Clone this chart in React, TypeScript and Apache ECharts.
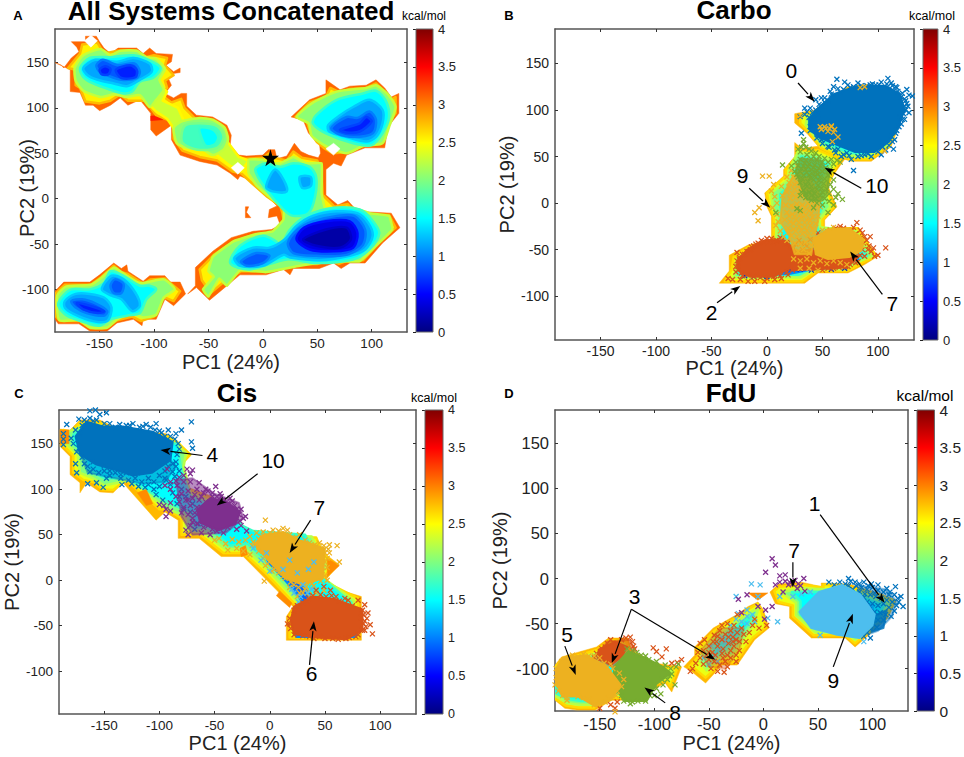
import React, { useEffect, useRef } from "react";
import * as echarts from "echarts";

type P = [number, number];
const FONT = '"Liberation Sans", Arial, sans-serif';
const xTicks = [-150, -100, -50, 0, 50, 100];
const yTicks = [-100, -50, 0, 50, 100, 150];
const cTicks = [0, 0.5, 1, 1.5, 2, 2.5, 3, 3.5, 4];
const X_RANGE: P = [-191, 132.5];
const Y_RANGE: P = [-147, 187];
const BLUE = "#0072BD", RED = "#D95319", GOLD = "#EDB120", PURPLE = "#7E2F8E", GREEN = "#77AC30", SKY = "#4DBEEE";

// ---------- Panel A: energy contours ----------
const A_main_310: P[] = [[-191,150],[-185,147],[-183,144],[-176,155],[-169,162],[-171,167],[-176,173],[-163,173],[-163,179],[-153,179],[-150,173],[-146,166],[-140,160],[-133,166],[-116,166],[-110,160],[-104,166],[-98,160],[-83,159],[-84,151],[-89,147],[-82,140],[-76,144],[-76,139],[-82,138],[-87,133],[-84,125],[-90,116],[-82,111],[-75,116],[-70,116],[-70,102],[-61,92],[-46,90],[-33,81],[-29,70],[-30,59],[-22,48],[-15,47],[0,48],[5,54],[11,54],[13,44],[22,47],[29,61],[35,52],[42,48],[51,45],[53,50],[52,61],[42,72],[37,87],[26,90],[43,109],[58,116],[58,131],[71,120],[80,124],[95,125],[104,131],[112,122],[118,112],[125,116],[125,94],[115,79],[112,56],[94,56],[77,48],[72,36],[65,39],[58,32],[58,4],[69,-7],[78,-2],[87,-14],[118,-16],[126,-32],[110,-49],[94,-71],[80,-71],[72,-77],[65,-71],[52,-77],[28,-77],[25,-84],[19,-78],[3,-84],[-21,-84],[-39,-102],[-49,-112],[-61,-98],[-69,-105],[-62,-96],[-62,-76],[-46,-58],[-29,-43],[-9,-36],[8,-34],[16,-29],[13,-19],[5,-21],[6,-12],[13,-8],[3,4],[-9,19],[-21,25],[-23,21],[-30,28],[-42,37],[-58,41],[-76,48],[-84,65],[-84,81],[-98,69],[-103,76],[-103,94],[-113,109],[-124,103],[-131,111],[-140,103],[-150,97],[-156,103],[-163,103],[-168,117],[-177,118],[-177,142]];
const A_bl_310: P[] = [[-191,-102],[-183,-92],[-159,-92],[-150,-84],[-137,-71],[-130,-77],[-125,-73],[-124,-80],[-110,-91],[-104,-85],[-90,-85],[-85,-92],[-76,-92],[-71,-105],[-82,-118],[-90,-111],[-98,-133],[-110,-133],[-111,-140],[-119,-133],[-134,-137],[-143,-146],[-159,-146],[-169,-138],[-188,-138],[-191,-133]];
const A_main_255: P[] = [[-179,144],[-168,160],[-166,170],[-152,172],[-146,160],[-133,163],[-116,163],[-110,155],[-100,158],[-88,155],[-90,147],[-82,136],[-90,130],[-88,122],[-94,115],[-84,106],[-75,110],[-72,100],[-62,88],[-48,87],[-36,78],[-32,68],[-33,57],[-20,44],[-15,44],[0,45],[6,50],[10,45],[22,42],[28,52],[36,45],[50,42],[54,30],[55,4],[66,-9],[78,-6],[86,-17],[116,-18],[122,-32],[108,-47],[92,-68],[78,-68],[70,-72],[62,-68],[50,-72],[28,-72],[20,-74],[3,-80],[-20,-80],[-36,-92],[-48,-104],[-56,-90],[-58,-78],[-45,-62],[-28,-48],[-9,-40],[8,-38],[20,-30],[18,-16],[16,-8],[4,2],[-10,17],[-20,28],[-28,30],[-42,42],[-58,46],[-74,53],[-82,66],[-82,84],[-98,92],[-108,108],[-124,108],[-131,115],[-140,108],[-150,105],[-163,107],[-168,122],[-172,125],[-172,142]];
const A_ur_255: P[] = [[30,90],[43,106],[58,112],[62,122],[71,117],[80,121],[95,122],[104,127],[110,120],[116,108],[122,112],[122,94],[112,78],[108,60],[94,59],[77,51],[64,50],[56,56],[50,62],[44,72],[40,86]];
const A_bl_255: P[] = [[-190,-104],[-182,-95],[-158,-95],[-149,-87],[-137,-74],[-130,-81],[-124,-83],[-110,-94],[-103,-89],[-90,-88],[-82,-96],[-76,-102],[-82,-113],[-92,-108],[-100,-130],[-112,-135],[-120,-130],[-134,-134],[-144,-143],[-158,-143],[-168,-135],[-186,-135],[-190,-130]];
const A_link_230a: P[] = [[-104,103],[-95,125],[-88,118],[-92,108],[-78,100],[-72,84],[-80,74],[-88,88],[-98,96]];
const A_link_230b: P[] = [[-36,76],[-32,62],[-22,46],[-13,42],[-20,30],[-30,36],[-42,48],[-40,62]];
const A_tl_205: P[] = [[-173,144],[-165,158],[-149,165],[-140,158],[-131,163],[-116,163],[-107,156],[-98,154],[-90,143],[-95,131],[-91,120],[-98,109],[-104,101],[-113,114],[-125,112],[-137,115],[-149,112],[-165,119],[-172,130]];
const A_ch_205: P[] = [[-82,78],[-75,85],[-58,89],[-46,87],[-35,78],[-32,65],[-36,54],[-46,48],[-55,54],[-70,56],[-79,61]];
const A_ctr_205: P[] = [[-13,43],[0,43],[7,39],[16,39],[28,46],[40,39],[54,39],[54,6],[57,-10],[65,-12],[83,-10],[98,-16],[116,-19],[119,-34],[104,-52],[89,-69],[65,-69],[34,-74],[3,-81],[-21,-79],[-33,-96],[-40,-88],[-50,-108],[-55,-100],[-45,-86],[-50,-80],[-46,-64],[-27,-47],[-6,-39],[9,-36],[19,-23],[19,-10],[9,-1],[-6,15],[-13,28]];
const A_ur_205: P[] = [[31,90],[45,105],[68,118],[95,122],[104,125],[115,115],[122,101],[116,79],[110,61],[92,58],[77,50],[58,58],[45,69],[42,83]];
const A_bl_205: P[] = [[-189,-107],[-181,-97],[-158,-95],[-149,-88],[-137,-76],[-130,-81],[-113,-93],[-91,-89],[-81,-100],[-91,-109],[-98,-128],[-110,-131],[-121,-127],[-134,-133],[-143,-142],[-159,-142],[-169,-134],[-187,-134]];
const A_ch_170: P[] = [[-72,80],[-58,83],[-42,80],[-36,68],[-42,56],[-60,54],[-74,62]];
const A_ch_150: P[] = [[-58,78],[-46,76],[-41,68],[-44,60],[-52,58],[-56,66]];
const A_tl_150: P[] = [[-168,144],[-159,155],[-140,156],[-119,158],[-105,153],[-94,144],[-101,133],[-113,129],[-120,118],[-128,116],[-140,120],[-156,127],[-165,134]];
const A_ctr_150: P[] = [[-7,32],[3,39],[16,35],[28,39],[43,35],[49,24],[48,2],[42,-16],[28,-19],[19,-12],[3,10]];
const A_bot_150: P[] = [[16,-52],[25,-34],[40,-19],[65,-10],[89,-12],[100,-23],[107,-38],[98,-56],[83,-67],[49,-71],[22,-67],[-12,-78],[-30,-71],[-21,-52],[0,-41],[12,-47]];
const A_ur_150: P[] = [[49,92],[68,109],[92,116],[104,119],[113,108],[116,90],[110,72],[100,59],[83,61],[58,72],[46,83]];
const A_bl_150: P[] = [[-185,-109],[-176,-100],[-159,-100],[-146,-93],[-140,-80],[-128,-85],[-113,-96],[-104,-96],[-98,-100],[-107,-111],[-113,-126],[-125,-129],[-140,-133],[-150,-140],[-162,-137],[-180,-129],[-188,-118]];
const A_tl_115: P[] = [[-165,144],[-154,153],[-134,151],[-119,155],[-104,149],[-102,140],[-113,131],[-125,124],[-137,127],[-152,131],[-161,136]];
const A_ctr_115a: P[] = [[3,13],[11,32],[19,21],[22,8],[9,8]];
const A_ctr_115b: P[] = [[34,24],[44,24],[44,14],[36,12]];
const A_bot_115: P[] = [[20,-45],[31,-30],[46,-19],[68,-14],[87,-16],[97,-27],[101,-41],[94,-56],[80,-63],[52,-68],[25,-65],[19,-62],[0,-74],[-21,-74],[-26,-65],[-9,-54],[6,-54]];
const A_ur_115: P[] = [[60,81],[71,92],[83,101],[98,109],[110,98],[110,83],[104,68],[95,63],[77,68],[61,74]];
const A_bl_115a: P[] = [[-182,-113],[-172,-105],[-159,-105],[-146,-109],[-139,-120],[-143,-135],[-156,-135],[-174,-127],[-182,-120]];
const A_bl_115b: P[] = [[-148,-100],[-139,-85],[-128,-89],[-117,-104],[-113,-118],[-120,-124],[-130,-111],[-139,-107]];
const A_tl_085: P[] = [[-153,147],[-147,153],[-133,147],[-118,149],[-113,140],[-116,133],[-130,131],[-143,136],[-150,140]];
const A_bot_085a: P[] = [[23,-49],[32,-34],[46,-25],[68,-19],[84,-19],[94,-34],[92,-51],[77,-62],[49,-63],[28,-60]];
const A_bot_085b: P[] = [[-20,-69],[-6,-60],[6,-63],[0,-71],[-15,-74]];
const A_ur_085: P[] = [[63,78],[77,90],[87,89],[98,96],[104,87],[101,72],[83,68],[68,72]];
const A_bl_085a: P[] = [[-176,-113],[-166,-111],[-153,-116],[-143,-124],[-146,-129],[-162,-126],[-172,-120]];
const A_bl_085b: P[] = [[-140,-96],[-136,-89],[-128,-94],[-130,-104],[-137,-104]];
const A_tl_060a: P[] = [[-150,142],[-145,146],[-140,143],[-142,137],[-148,137]];
const A_tl_060b: P[] = [[-135,142],[-122,147],[-116,142],[-117,134],[-130,133]];
const A_ur_060: P[] = [[71,76],[89,83],[95,90],[100,85],[89,74],[77,73]];
const A_bl_060: P[] = [[-171,-115],[-159,-118],[-146,-124],[-152,-126],[-165,-122]];
const A_bot_045: P[] = [[31,-45],[38,-32],[58,-25],[80,-25],[87,-38],[83,-54],[65,-58],[43,-56]];
const A_bot_020: P[] = [[37,-45],[58,-34],[77,-32],[81,-45],[71,-54],[49,-52]];
const A_holes: P[][] = [
  [[-164,174],[-158,180],[-152,174],[-158,167]],
  [[58,55],[65,61],[71,55],[65,48]],
  [[-29,34],[-23,40],[-17,34],[-23,27]],
];
const A_fragment: P[] = [[-16,-9],[-13,-9],[-15,-15],[-11,-21],[-16,-21]];
const A_hot: P[][] = [
  [[-103,91],[-92,92],[-92,87],[-103,86]],
  [[-93,104],[-85,105],[-85,103],[-93,102]],
];
const A_star: P[] = [[7, 45]];

// ---------- Panel B ----------
const B_top_295: P[] = [[25,96],[43,100],[73,125],[103,125],[122,111],[122,93],[112,61],[94,45],[76,45],[61,50],[49,57],[36,75],[25,86]];
const B_top_250: P[] = [[30,95],[43,98],[73,122],[103,122],[120,110],[120,93],[110,60],[92,47],[76,47],[61,52],[49,59],[38,76],[30,86]];
const B_top_200: P[] = [[36,92],[45,96],[73,118],[103,118],[118,108],[118,93],[108,62],[90,50],[76,50],[62,56],[50,62],[40,76],[35,84]];
const B_top_150: P[] = [[42,88],[50,96],[75,115],[100,115],[115,106],[115,93],[105,65],[88,54],[75,54],[62,60],[52,66],[45,78],[42,84]];
const B_low_295: P[] = [[25,65],[31,59],[46,61],[70,47],[61,32],[55,18],[63,-4],[52,-18],[52,-29],[82,-29],[100,-57],[88,-66],[73,-75],[46,-75],[34,-86],[-43,-86],[-34,-73],[-34,-56],[-17,-45],[4,-39],[4,-14],[0,-4],[-2,11],[15,29],[15,36],[25,50]];
const B_low_255: P[] = [[27,60],[31,55],[46,57],[66,47],[59,31],[53,18],[60,-4],[50,-18],[50,-27],[82,-27],[98,-57],[86,-64],[72,-73],[45,-73],[32,-84],[-38,-84],[-32,-72],[-30,-58],[-16,-47],[6,-41],[6,-14],[2,-3],[0,11],[17,29],[17,36],[27,50]];
const B_low_200: P[] = [[28,55],[45,52],[60,45],[55,30],[50,18],[57,-4],[47,-18],[48,-26],[80,-30],[95,-57],[84,-62],[70,-71],[44,-71],[30,-80],[-30,-80],[-28,-70],[-27,-60],[-15,-50],[8,-43],[9,-14],[5,-4],[4,11],[19,25],[20,36]];
const B_low_150: P[] = [[31,50],[44,47],[55,42],[50,28],[46,18],[50,-4],[44,-20],[46,-30],[78,-35],[90,-57],[82,-60],[68,-68],[44,-68],[28,-77],[-26,-77],[-24,-68],[-22,-60],[-12,-53],[12,-46],[15,-16],[12,-4],[12,10],[24,22],[26,36]];
const B_low_090: P[] = [[-20,-76],[20,-76],[40,-71],[60,-69],[82,-60],[70,-55],[-10,-55]];

const B_core0: P[] = [[38,90],[46,102],[60,117],[82,126],[107,126],[120,117],[124,100],[119,84],[110,66],[97,55],[79,55],[60,64],[45,72],[38,80]];
const B_core2a: P[] = [[-27,-64],[-18,-50],[-2,-40],[15,-40],[26,-52],[24,-68],[6,-79],[-15,-79],[-25,-73]];
const B_core2b: P[] = [[22,-52],[40,-50],[60,-57],[84,-56],[72,-69],[45,-71],[22,-72]];
const B_core7: P[] = [[42,-38],[55,-28],[74,-27],[87,-39],[85,-51],[74,-58],[55,-60],[44,-55]];
const B_mid7: P[] = [[14,8],[24,30],[40,24],[48,5],[46,-20],[42,-40],[40,-55],[25,-55],[20,-35],[12,-20]];
const B_mid10: P[] = [[30,48],[48,46],[56,30],[54,10],[48,2],[36,4],[30,20],[26,35]];
const B_pts0: P[] = [[63,133],[70,130],[78,125],[60,125],[49,113],[44,111],[34,102],[39,102],[30,93],[34,95],[31,75],[39,82],[39,78],[78,35],[93,127],[109,134],[103,130],[112,129],[116,125],[126,122],[128,116],[131,115],[126,107],[128,97],[122,90],[116,75],[114,58],[107,57],[82,50],[76,47],[88,52],[67,50],[61,57],[55,61],[49,68],[52,113],[57,120],[69,122],[85,126],[118,120],[124,104],[119,82],[115,68],[44,100],[38,92],[42,84],[47,76],[52,70],[58,64],[64,58],[72,54],[91,53],[100,55],[104,60],[112,72],[120,92],[124,112],[122,118],[113,126],[98,127],[90,126],[75,124],[66,119],[55,110],[47,106],[36,98],[125,100],[123,96],[41,97],[46,95],[43,90],[41,79],[45,70],[50,64],[56,60],[62,54],[69,52],[74,51],[85,51],[94,50],[103,52],[110,62],[113,66],[117,78],[121,85],[124,90],[127,104],[125,110],[121,114],[117,124],[108,128],[101,127],[95,128],[82,129],[73,127],[64,123],[58,117],[52,108],[49,104]];
const B_pts0y: P[] = [[48,82],[58,82],[61,79],[49,79],[55,77],[64,71],[59,66],[84,124],[88,125],[30,94],[52,82],[56,80],[60,76],[53,80],[106,56],[58,83]];
const B_pts2: P[] = [[-27,-53],[-35,-81],[-31,-82],[-24,-82],[-17,-84],[-11,-84],[-2,-84],[7,-82],[13,-81],[19,-77],[-14,-47],[-5,-40],[4,-38],[12,-37],[19,-43],[31,-43],[39,-39],[46,-32],[57,-29],[66,-25],[73,-29],[81,-21],[84,-29],[88,-36],[93,-36],[87,-43],[91,-50],[96,-48],[97,-57],[100,-56],[107,-48],[88,-57],[82,-63],[73,-68],[24,-48],[28,-53],[32,-50],[36,-46],[40,-50],[44,-47],[27,-62],[34,-58],[38,-62],[30,-68],[42,-66],[50,-66],[56,-68],[62,-66],[68,-64],[76,-62],[26,-44],[21,-47],[17,-44],[-10,-44],[8,-40],[0,-38],[6,-42],[-20,-55],[-25,-60],[-28,-68],[-28,-74],[-22,-78],[76,-30],[80,-33],[84,-38],[86,-50],[84,-56],[79,-56],[92,-46],[48,-38],[52,-34],[62,-32],[70,-32],[-25,-58],[-22,-55],[-18,-52],[-15,-50],[-12,-46],[-8,-43],[-3,-42],[3,-41],[9,-40],[14,-39],[18,-42],[22,-46],[25,-52],[27,-58],[-27,-62],[-26,-68],[-26,-72],[-23,-75],[-18,-77],[-12,-79],[-6,-80],[0,-81],[6,-79],[12,-78],[18,-74],[23,-72],[28,-66],[32,-66],[35,-65],[39,-68],[44,-70],[50,-72],[55,-70],[60,-70],[65,-69],[71,-68],[75,-66],[80,-64],[34,-44],[29,-40],[43,-41],[47,-35],[55,-31],[62,-27],[69,-27],[78,-26],[86,-32],[90,-40],[94,-52]];
const B_ptsDark: P[] = [[-20,-78],[-12,-79],[-4,-78],[4,-77],[10,-76],[20,-70],[7,-60],[-16,-76],[0,-79],[30,-71],[40,-72],[58,-71],[70,-70]];
const B_pts7: P[] = [[-4,29],[2,29],[6,20],[-11,-10],[-7,-5],[-8,-19],[4,13],[7,7],[9,0],[5,-5],[9,-12],[10,-20],[8,-24],[12,-30],[15,-36],[18,-40],[14,8],[18,12],[13,18],[20,22],[24,28],[18,28],[22,35],[27,40],[30,32],[34,36],[27,22],[32,24],[37,26],[25,15],[30,16],[35,15],[39,18],[44,22],[21,5],[26,6],[31,8],[36,6],[41,9],[46,12],[17,-2],[22,-3],[27,-1],[32,-2],[37,0],[42,2],[47,4],[18,-10],[23,-12],[28,-8],[33,-10],[38,-8],[43,-6],[48,-4],[16,-18],[21,-20],[26,-18],[31,-16],[36,-18],[41,-15],[46,-14],[19,-27],[24,-28],[29,-25],[34,-26],[39,-24],[44,-22],[22,-35],[27,-36],[32,-33],[37,-35],[42,-32],[25,-43],[30,-44],[35,-42],[40,-45],[28,-52],[33,-50],[38,-54],[24,-60],[30,-62],[36,-60],[42,-64],[48,-62],[54,-65],[60,-62],[66,-64],[72,-66],[30,-70],[38,-70],[46,-72],[86,-46],[80,-36],[60,-26],[50,-29],[20,-31],[26,-30],[31,-29],[36,-30],[41,-28],[24,-22],[29,-21],[34,-21],[39,-19],[20,-14],[25,-14],[30,-12],[35,-13],[40,-11],[24,-4],[29,-4],[34,-5],[39,-3],[44,-1],[23,10],[28,11],[33,12],[38,13],[43,16],[20,17],[25,20],[30,19],[35,21]];
const B_pts10: P[] = [[33,68],[33,64],[31,60],[28,58],[35,60],[38,58],[40,56],[44,54],[30,55],[36,52],[42,50],[47,50],[52,48],[58,47],[63,46],[66,44],[60,42],[55,44],[50,44],[45,46],[40,47],[35,46],[30,47],[26,44],[14,41],[22,40],[28,40],[33,40],[38,42],[43,41],[48,40],[53,38],[57,36],[25,34],[30,34],[35,36],[40,36],[45,35],[50,34],[55,30],[60,25],[28,28],[33,30],[38,30],[43,29],[48,28],[52,26],[57,20],[60,15],[64,10],[68,4],[62,6],[56,10],[50,12],[45,15],[40,18],[35,20],[30,22],[33,14],[38,12],[43,10],[48,8],[52,5],[56,2],[60,-2],[50,-2],[45,0],[40,3],[35,6],[30,8],[42,-5],[30,-8],[27,-6],[55,-10],[8,-10],[36,33],[41,32],[46,31],[32,26],[37,23],[42,25],[47,24],[51,21],[36,18],[41,14],[46,19],[31,12],[35,10],[40,8],[44,5],[49,16],[54,15],[37,39],[42,38],[47,37],[34,43],[31,37],[27,31],[39,27],[44,33]];

// ---------- Panel C ----------
const C_295: P[] = [[-190,166],[-190,147],[-181,136],[-181,116],[-172,107],[-172,96],[-166,107],[-154,97],[-142,96],[-133,107],[-103,66],[-95,75],[-83,66],[-83,46],[-64,46],[-44,26],[-24,26],[-6,4],[21,-29],[15,-40],[15,-66],[83,-66],[83,-18],[54,-7],[48,-3],[63,17],[51,28],[42,44],[-18,44],[-27,48],[-33,63],[-52,92],[-76,103],[-85,125],[-74,138],[-85,154],[-94,161],[-139,167],[-154,176],[-172,176],[-181,165]];
const C_250: P[] = [[-187,165],[-187,148],[-178,137],[-178,118],[-169,110],[-160,108],[-152,100],[-142,99],[-130,110],[-100,78],[-93,78],[-80,68],[-80,50],[-63,50],[-42,30],[-24,30],[-4,8],[24,-28],[18,-40],[18,-63],[80,-63],[80,-20],[54,-4],[46,-1],[58,16],[48,30],[42,47],[-18,47],[-27,52],[-31,63],[-52,88],[-74,100],[-82,125],[-72,138],[-84,152],[-94,158],[-139,164],[-154,173],[-172,173],[-181,162]];
const C_200: P[] = [[-183,163],[-184,150],[-174,138],[-172,118],[-160,112],[-150,104],[-135,108],[-125,110],[-96,80],[-76,70],[-76,56],[-60,52],[-40,34],[-22,34],[-2,12],[27,-26],[22,-40],[22,-59],[76,-59],[76,-22],[52,-1],[44,2],[52,16],[44,32],[38,48],[-18,50],[-27,56],[-30,65],[-50,84],[-72,96],[-78,125],[-76,140],[-88,152],[-139,160],[-154,168],[-172,168]];
const C_150: P[] = [[-178,160],[-178,150],[-168,140],[-165,122],[-150,112],[-130,112],[-90,84],[-72,75],[-70,58],[-56,58],[-36,38],[-20,40],[2,16],[31,-22],[27,-42],[27,-56],[74,-56],[74,-25],[48,2],[40,6],[46,18],[38,34],[32,50],[-15,54],[-25,60],[-30,68],[-50,80],[-72,92],[-80,120],[-84,150],[-139,156],[-154,164],[-170,166]];
const C_090a: P[] = [[-2,22],[8,8],[24,-14],[32,-27],[38,-20],[20,6],[6,24]];
const C_090b: P[] = [[24,-62],[78,-62],[78,-58],[24,-58]];
const C_hot: P[][] = [
  [[-120,96],[-112,100],[-106,84],[-112,82]],
  [[-27,35],[-22,38],[-20,28],[-26,26]],
  [[9,-12],[20,-25],[18,-30],[6,-17]],
  [[52,24],[63,16],[52,4]],
  [[-190,165],[-182,165],[-182,150],[-190,150]],
];
const C_core4: P[] = [[-176,158],[-166,174],[-151,169],[-133,169],[-106,163],[-88,152],[-90,132],[-107,118],[-124,115],[-142,122],[-157,127],[-172,138]];
const C_mid4: P[] = [[-172,140],[-165,118],[-140,112],[-115,106],[-95,108],[-85,125],[-92,135],[-150,130]];
const C_core10: P[] = [[-66,77],[-54,90],[-40,87],[-27,75],[-31,62],[-46,55],[-63,63]];
const C_mid10: P[] = [[-85,110],[-70,112],[-50,95],[-28,85],[-24,68],[-40,52],[-70,50],[-80,70]];
const C_core7: P[] = [[-5,50],[12,53],[27,44],[50,35],[48,2],[30,-5],[15,2],[0,20],[-14,39]];
const C_core6: P[] = [[22,-29],[39,-18],[60,-21],[84,-32],[84,-55],[69,-65],[42,-63],[22,-59],[19,-44]];
const C_pts4: P[] = [[-163,186],[-158,187],[-148,184],[-154,182],[-173,177],[-184,171],[-187,161],[-187,155],[-187,149],[-176,128],[-175,118],[-165,106],[-157,107],[-151,102],[-148,112],[-163,119],[-134,105],[-119,103],[-113,102],[-103,94],[-97,88],[-71,174],[-80,165],[-85,161],[-71,152],[-70,145],[-103,172],[-124,172],[-112,171],[-92,165],[-85,130],[-88,119],[-100,103],[-94,110],[-86,114],[-172,161],[-178,150],[-175,141],[-170,135],[-165,125],[-160,122],[-155,118],[-150,120],[-145,115],[-140,118],[-135,112],[-128,110],[-122,112],[-116,108],[-110,112],[-105,108],[-100,115],[-95,120],[-92,125],[-88,128],[-120,118],[-130,118],[-150,126],[-160,130],[-170,170],[-160,175],[-150,172],[-140,168],[-130,170],[-118,168],[-100,164],[-95,158],[-86,155],[-72,75],[-66,72],[-60,70],[-55,62],[-65,62],[-78,78],[-84,84],[-68,56],[-176,165],[-168,176],[-163,178],[-157,176],[-145,172],[-136,171],[-127,170],[-115,169],[-108,168],[-104,165],[-98,162],[-90,158],[-83,150],[-82,144],[-84,138],[-85,125],[-82,120],[-95,112],[-90,105],[-105,100],[-110,105],[-125,106],[-135,116],[-145,120],[-168,128],[-173,145],[-180,156],[-80,100],[-76,92],[-88,96],[-82,92],[-70,84]];
const C_pts10: P[] = [[-93,122],[-75,122],[-70,121],[-72,117],[-78,115],[-82,113],[-85,109],[-90,108],[-95,104],[-90,100],[-84,104],[-78,108],[-72,108],[-64,107],[-56,98],[-49,103],[-45,95],[-52,92],[-60,96],[-66,100],[-74,98],[-80,95],[-85,92],[-82,86],[-76,88],[-70,90],[-64,88],[-78,80],[-72,82],[-66,80],[-80,74],[-74,72],[-70,68],[-66,62],[-72,60],[-76,55],[-74,50],[-62,52],[-54,50],[-60,58],[-56,60],[-48,54],[-42,52],[-38,58],[-30,56],[-26,60],[-24,68],[-28,72],[-22,70],[-26,78],[-32,82],[-34,87],[-38,84],[-43,88],[-48,92],[-27,65],[-21,54],[-90,85],[-96,82],[-100,83],[-94,78],[-90,76],[-94,70],[-68,94],[-62,92],[-74,88],[-68,74],[-62,80],[-58,86],[-70,64],[-52,56],[-36,64],[-30,78],[-36,90],[-44,92],[-52,96],[-58,100]];
const C_pts7: P[] = [[-4,66],[-12,52],[-18,48],[-6,53],[3,55],[12,57],[16,55],[6,50],[27,50],[36,41],[45,41],[54,39],[61,38],[63,20],[54,30],[-5,-1],[52,0],[49,-11],[42,-14],[33,-7],[27,-14],[42,-28],[-46,46],[-40,40],[-34,45],[-28,42],[-22,44],[-30,35],[-38,33],[-24,32],[-18,28],[-50,44],[-10,32],[-6,24],[-2,18],[4,12],[8,8],[14,2],[22,-5],[38,-4],[48,10],[50,20],[50,30],[40,38],[22,46],[-15,42],[-10,45],[18,-8],[36,-12],[-16,38],[-12,40],[-8,48],[0,52],[8,54],[18,50],[24,47],[32,44],[41,39],[49,38],[53,34],[52,24],[52,14],[50,5],[46,-1],[40,-6],[32,-10],[26,-8],[19,-2],[12,4],[2,10],[-4,16],[30,-14],[36,-18],[45,-20],[25,-18]];
const C_ptsSky: P[] = [[-8,22],[0,10],[12,12],[18,22],[35,12],[40,20],[25,8],[30,-5],[20,-10],[-15,35],[-3,30],[28,-18],[34,-14],[22,-14],[26,-24],[38,-10]];
const C_pts6: P[] = [[42,-11],[49,-7],[55,-11],[60,-18],[71,-22],[80,-22],[84,-33],[89,-36],[87,-51],[91,-49],[93,-59],[84,-55],[18,-42],[19,-53],[27,-29],[33,-23],[27,-58],[36,-62],[45,-62],[57,-64],[69,-64],[78,-62],[83,-41],[86,-27],[51,-18],[63,-23],[39,-17],[22,-33],[16,-48],[30,-25],[86,-45],[85,-38],[75,-28],[68,-20],[56,-17],[46,-16],[35,-20],[25,-28],[88,-42],[85,-48],[86,-55],[80,-60],[72,-63],[62,-65],[50,-64],[40,-64],[30,-61],[22,-60],[18,-48]];

// ---------- Panel D ----------
const D_right_295: P[] = [[6,-15],[14,-6],[35,-4],[53,-9],[53,-5],[78,-6],[108,-17],[122,-24],[114,-44],[84,-76],[75,-66],[44,-66],[24,-44],[24,-31],[11,-28]];
const D_right_250: P[] = [[10,-14],[15,-9],[35,-7],[55,-10],[55,-7],[78,-9],[107,-20],[119,-25],[111,-44],[84,-72],[75,-63],[46,-63],[27,-42],[27,-30],[14,-26]];
const D_right_200: P[] = [[17,-15],[35,-11],[57,-12],[78,-12],[105,-23],[115,-27],[108,-44],[84,-68],[76,-60],[48,-60],[30,-41],[30,-27],[22,-20]];
const D_right_150: P[] = [[26,-15],[37,-15],[58,-15],[78,-15],[102,-26],[110,-30],[104,-46],[84,-65],[76,-57],[50,-56],[34,-40],[34,-25]];
const D_right_110: P[] = [[38,-35],[55,-18],[75,-18],[100,-30],[100,-48],[84,-62],[70,-54],[52,-52]];
const D_bow_295: P[] = [[-14,-16],[4,-16],[-5,-24]];
const D_chain_295: P[] = [[-73,-98],[-63,-85],[-63,-76],[-46,-55],[-23,-39],[-14,-31],[-5,-26],[0,-35],[5,-55],[-8,-68],[-24,-96],[-38,-96],[-53,-116],[-66,-103]];
const D_chain_250: P[] = [[-68,-98],[-60,-87],[-60,-78],[-45,-58],[-23,-42],[-14,-34],[-5,-28],[-2,-36],[2,-54],[-10,-66],[-26,-93],[-38,-93],[-53,-110],[-63,-100]];
const D_chain_200: P[] = [[-58,-92],[-55,-80],[-42,-62],[-22,-46],[-10,-36],[-5,-34],[-8,-48],[-14,-60],[-28,-85],[-40,-88],[-52,-102]];
const D_chain_150: P[] = [[-48,-88],[-45,-72],[-30,-58],[-15,-45],[-10,-40],[-15,-52],[-30,-75],[-42,-85]];
const D_left_295: P[] = [[-191,-96],[-185,-87],[-153,-76],[-142,-66],[-124,-66],[-121,-79],[-99,-94],[-75,-98],[-84,-126],[-90,-116],[-102,-124],[-114,-135],[-139,-135],[-154,-146],[-171,-146],[-182,-144],[-191,-135]];
const D_left_250: P[] = [[-191,-98],[-183,-90],[-152,-79],[-141,-69],[-126,-69],[-122,-82],[-100,-97],[-79,-100],[-85,-120],[-90,-112],[-103,-120],[-115,-132],[-140,-132],[-155,-143],[-170,-143],[-181,-141],[-191,-133]];
const D_left_200: P[] = [[-191,-100],[-180,-92],[-150,-82],[-138,-74],[-128,-74],[-120,-85],[-100,-100],[-84,-103],[-88,-110],[-103,-116],[-116,-129],[-141,-129],[-156,-140],[-169,-140],[-180,-138],[-191,-130]];
const D_left_150: P[] = [[-191,-104],[-178,-96],[-150,-86],[-135,-80],[-120,-90],[-100,-104],[-92,-108],[-105,-113],[-118,-126],[-143,-126],[-157,-136],[-167,-136],[-178,-134],[-191,-127]];
const D_core9: P[] = [[33,-37],[51,-15],[72,-7],[89,-18],[102,-40],[100,-52],[88,-66],[66,-62],[44,-55]];
const D_core1: P[] = [[100,-42],[113,-35],[110,-55],[99,-59]];
const D_mid1: P[] = [[88,-8],[112,-12],[122,-25],[118,-42],[105,-58],[96,-62],[92,-40],[85,-18]];
const D_core5: P[] = [[-191,-102],[-184,-88],[-163,-85],[-144,-97],[-131,-118],[-139,-134],[-154,-142],[-169,-131],[-184,-131],[-191,-114]];
const D_core8: P[] = [[-136,-97],[-124,-81],[-108,-88],[-92,-98],[-85,-105],[-98,-117],[-107,-136],[-127,-136],[-134,-125],[-138,-109]];
const D_core3: P[] = [[-151,-79],[-136,-70],[-125,-76],[-130,-87],[-140,-96],[-151,-87]];
const D_mid3: P[] = [[-155,-88],[-143,-70],[-122,-68],[-118,-80],[-135,-100]];
const D_midChain: P[] = [[-58,-80],[-40,-55],[-18,-55],[-22,-80],[-35,-100],[-50,-98]];
const D_pts1: P[] = [[60,-4],[78,0],[70,-4],[84,-4],[92,-4],[99,-6],[105,-7],[113,-11],[121,-9],[116,-15],[126,-20],[128,-31],[124,-26],[85,-8],[90,-10],[95,-12],[100,-10],[105,-13],[110,-15],[115,-18],[120,-18],[123,-22],[88,-15],[93,-17],[98,-18],[103,-20],[108,-22],[113,-24],[118,-26],[122,-30],[90,-24],[95,-26],[100,-28],[105,-30],[110,-28],[115,-32],[120,-36],[92,-32],[97,-35],[102,-37],[107,-38],[112,-40],[117,-42],[95,-42],[100,-44],[105,-46],[110,-46],[100,-50],[104,-54],[95,-60],[92,-64],[98,-66],[60,-50],[62,-48],[78,-8],[82,-12],[75,-6],[65,-7],[72,-10],[80,-3],[88,-6],[96,-8],[102,-16],[92,-21],[86,-27],[90,-38],[94,-48],[97,-55]];
const D_ptsSky: P[] = [[-11,-6],[-3,-7],[-25,-20],[-23,-39],[-15,-35],[-5,-20],[4,-44],[13,-48],[15,-20],[27,-20],[35,-17],[43,-15],[-30,-52],[-25,-45],[-20,-48],[-15,-42],[-10,-40],[-15,-50],[-8,-48],[-45,-85],[-40,-78],[-50,-95],[-35,-70],[-55,-88],[-42,-92],[-48,-75],[-38,-65],[-30,-62],[52,-63],[92,-70]];
const D_pts7: P[] = [[8,22],[11,15],[2,7],[15,3],[20,4],[15,-4],[20,-3],[24,-4],[29,-2],[37,0],[32,-6],[31,-11],[38,-14],[11,-7],[-23,-23],[-15,-18],[8,-31],[2,-35],[1,-45],[-20,-38],[-5,-31],[18,-15],[23,-7],[27,-6],[34,-8]];
const D_pts5: P[] = [[-191,-118],[-185,-92],[-178,-88],[-170,-87],[-160,-86],[-190,-100],[-190,-110],[-188,-125],[-184,-130],[-180,-135],[-170,-131],[-160,-134],[-150,-138],[-145,-137],[-136,-148],[-135,-130],[-130,-120],[-128,-112],[-132,-105],[-138,-100],[-140,-95],[-150,-88],[-175,-85],[-165,-84],[-155,-86],[-146,-94],[-180,-132],[-165,-132],[-155,-140],[-142,-133],[-134,-125]];
const D_pts8: P[] = [[-120,-80],[-112,-85],[-105,-90],[-98,-92],[-90,-96],[-85,-100],[-80,-98],[-78,-95],[-84,-106],[-88,-112],[-92,-118],[-81,-118],[-98,-122],[-94,-128],[-100,-130],[-108,-136],[-115,-136],[-104,-125],[-130,-130],[-133,-125],[-140,-125],[-138,-115],[-146,-108],[-125,-78],[-116,-82],[-108,-86],[-100,-95],[-92,-100],[-86,-108],[-93,-112],[-100,-118],[-104,-130],[-120,-137],[-128,-136],[-122,-139]];
const D_pts3: P[] = [[-122,-65],[-143,-72],[-119,-75],[-101,-77],[-89,-78],[-98,-81],[-93,-87],[-84,-94],[-75,-90],[-79,-93],[-153,-83],[-67,-103],[-136,-144],[-150,-144],[-134,-137],[-140,-140],[-58,-72],[-54,-68],[-50,-75],[-46,-70],[-42,-64],[-40,-58],[-38,-52],[-33,-50],[-30,-58],[-35,-62],[-28,-65],[-24,-60],[-20,-55],[-18,-62],[-22,-70],[-27,-75],[-32,-72],[-37,-78],[-42,-75],[-47,-82],[-52,-85],[-58,-88],[-62,-94],[-55,-95],[-48,-100],[-42,-103],[-36,-104],[-40,-96],[-35,-92],[-30,-88],[-25,-85],[-22,-80],[-30,-80],[-16,-70],[-13,-60],[-10,-52],[-4,-55],[3,-52],[-8,-45],[-37,-88],[-45,-92],[-50,-90],[-55,-80],[-60,-82],[-65,-100],[-25,-92],[-33,-98],[-27,-52],[-24,-40],[-135,-72],[-130,-68],[-126,-66],[-120,-70],[-150,-90],[-148,-78],[-155,-88],[-145,-76],[-140,-68],[-118,-78],[-122,-84],[-45,-63],[-38,-68],[-32,-65],[-44,-85],[-38,-83],[-33,-85],[-28,-70],[-25,-68],[-50,-82],[-43,-70]];

// ---------- Annotations: [x1, y1, x2, y2] arrows and [text, x, y] labels ----------
const B_arrows = [[28,129,43,109],[-16,16,3,-5],[85,16,52,38],[-45,-107,-24,-89],[104,-98,75,-52]];
const B_labels: [string, number, number][] = [["0",22,142],["9",-22,30],["10",99,19],["2",-50,-117],["7",113,-108]];
const C_arrows = [[-61,137,-99,143],[-11,117,-48,82],[37,66,18,30],[36,-93,40,-45]];
const C_labels: [string, number, number][] = [["4",-52,138],["10",3,131],["7",45,80],["6",38,-103]];
const D_arrows = [[52,71,111,-27],[27,18,27,-10],[-121,-34,-139,-94],[-121,-34,-44,-90],[-182,-75,-172,-107],[-90,-138,-109,-121],[64,-98,82,-39]];
const D_labels: [string, number, number][] = [["1",47,83],["7",28,31],["3",-118,-20],["5",-180,-62],["8",-81,-149],["9",64,-113]];

// ---------- helpers ----------
function jet(v: number) {
  const t = v / 4;
  const f = (a: number, b: number) => Math.round(255 * Math.max(0, Math.min(1, Math.min(4 * t + a, -4 * t + b))));
  return `rgb(${f(-1.5, 4.5)},${f(-0.5, 3.5)},${f(0.5, 2.5)})`;
}
const JET_STOPS = [0, 0.125, 0.375, 0.625, 0.875, 1].map((o) => ({ offset: o, color: jet(o * 4) }));

type Ring = { pts: P[]; fill: string; stroke?: string; lw?: number; smooth?: number; op?: number };
const lvl = (v: number, pts: P[], smooth = 0): Ring => ({ pts, fill: jet(v), stroke: jet(v + (v > 1.2 ? 0.22 : 0.14)), lw: 2.5, smooth });
const base = (v: number, pts: P[]): Ring => ({ pts, fill: jet(v) });

const A_rings: Ring[] = [
  base(3.1, A_main_310), base(3.1, A_bl_310), base(3.1, A_fragment),
  ...A_hot.map((r) => base(3.4, r)),
  lvl(2.55, A_main_255), lvl(2.55, A_ur_255), lvl(2.55, A_bl_255),
  lvl(2.3, A_link_230a), lvl(2.3, A_link_230b),
  lvl(2.05, A_tl_205, 0.2), lvl(2.05, A_ch_205, 0.2), lvl(2.05, A_ctr_205, 0.1), lvl(2.05, A_ur_205, 0.2), lvl(2.05, A_bl_205, 0.2),
  lvl(1.75, A_ch_170, 0.3), lvl(1.5, A_ch_150, 0.3),
  lvl(1.5, A_tl_150, 0.3), lvl(1.5, A_ctr_150, 0.3), lvl(1.5, A_bot_150, 0.3), lvl(1.5, A_ur_150, 0.3), lvl(1.5, A_bl_150, 0.3),
  lvl(1.15, A_tl_115, 0.3), lvl(1.15, A_ctr_115a, 0.3), lvl(1.15, A_ctr_115b, 0.3), lvl(1.15, A_bot_115, 0.3), lvl(1.15, A_ur_115, 0.3), lvl(1.15, A_bl_115a, 0.3), lvl(1.15, A_bl_115b, 0.3),
  lvl(0.85, A_tl_085, 0.3), lvl(0.85, A_bot_085a, 0.3), lvl(0.85, A_bot_085b, 0.3), lvl(0.85, A_ur_085, 0.3), lvl(0.85, A_bl_085a, 0.3), lvl(0.85, A_bl_085b, 0.3),
  lvl(0.62, A_tl_060a, 0.3), lvl(0.62, A_tl_060b, 0.3), lvl(0.62, A_ur_060, 0.3), lvl(0.62, A_bl_060, 0.3),
  lvl(0.4, A_bot_045, 0.3), lvl(0.15, A_bot_020, 0.3),
  ...A_holes.map((pts) => ({ pts, fill: "#fff" })),
];
const EDGE = 2.78, YEL = 2.42;
const B_rings: Ring[] = [
  base(EDGE, B_top_295), base(EDGE, B_low_295),
  lvl(YEL, B_top_250), lvl(YEL, B_low_255), lvl(2.0, B_top_200), lvl(2.0, B_low_200),
  lvl(1.5, B_top_150), lvl(1.5, B_low_150), lvl(0.9, B_low_090),
];
const C_rings: Ring[] = [
  base(EDGE, C_295), lvl(YEL, C_250), lvl(2.0, C_200), lvl(1.5, C_150), lvl(0.9, C_090a, 0.3), lvl(0.9, C_090b),
  ...C_hot.map((r) => base(2.95, r)),
];
const D_rings: Ring[] = [
  base(EDGE, D_right_295), base(2.95, D_bow_295), base(EDGE, D_chain_295), base(EDGE, D_left_295),
  lvl(YEL, D_right_250), lvl(YEL, D_chain_250), lvl(YEL, D_left_250),
  lvl(2.0, D_right_200), lvl(2.0, D_chain_200), lvl(2.0, D_left_200),
  lvl(1.5, D_right_150), lvl(1.5, D_chain_150), lvl(1.5, D_left_150),
  lvl(1.1, D_right_110),
];

type Layer = { core?: P[]; pts: P[]; color: string; op?: number };
type Panel = {
  letter: string; title: string; titleXY: P; letterXY: P;
  grid: [number, number, number, number]; bar: [number, number];
  tickFont: number; barFont: number; unitFont: number; unitXY: P;
  xGap: number; yGap: number; yPad?: number[];
  rings: Ring[]; layers: Layer[]; arrows: number[][]; labels: [string, number, number][]; star?: P[];
};
const panels: Panel[] = [
  { letter: "A", title: "All Systems Concatenated", titleXY: [231, 11], letterXY: [18, 15],
    grid: [55, 29, 352, 303], bar: [416, 17], tickFont: 13.5, barFont: 13, unitFont: 12, unitXY: [424, 16],
    xGap: 20, yGap: 18, yPad: [0, 15, 0, 0], rings: A_rings, layers: [], arrows: [], labels: [], star: A_star },
  { letter: "B", title: "Carbo", titleXY: [734, 10], letterXY: [509, 15],
    grid: [555, 29, 359, 311], bar: [923, 18], tickFont: 14, barFont: 13, unitFont: 12.5, unitXY: [932, 16],
    xGap: 18, yGap: 38, rings: B_rings,
    layers: [
      { pts: B_ptsDark, color: "#1030c0" },
      { core: B_core2a, pts: B_pts2, color: RED },
      { core: B_core2b, pts: [], color: RED },
      { core: B_core7, pts: [], color: GOLD },
      { core: B_mid7, pts: B_pts7, color: GOLD, op: 0.82 },
      { core: B_mid10, pts: B_pts10, color: GREEN, op: 0.78 },
      { core: B_core0, pts: B_pts0, color: BLUE },
      { pts: B_pts0y, color: GOLD },
    ], arrows: B_arrows, labels: B_labels },
  { letter: "C", title: "Cis", titleXY: [237, 393], letterXY: [19, 393],
    grid: [59, 410, 357, 304], bar: [425, 18], tickFont: 13.5, barFont: 12.5, unitFont: 12.5, unitXY: [434, 398],
    xGap: 19, yGap: 37, rings: C_rings,
    layers: [
      { core: C_core7, pts: C_pts7, color: GOLD },
      { pts: C_ptsSky, color: SKY },
      { core: C_mid4, pts: [], color: BLUE, op: 0.45 },
      { core: C_core4, pts: C_pts4, color: BLUE },
      { core: C_mid10, pts: C_pts10, color: PURPLE, op: 0.55 },
      { core: C_core10, pts: [], color: PURPLE },
      { core: C_core6, pts: C_pts6, color: RED },
    ], arrows: C_arrows, labels: C_labels },
  { letter: "D", title: "FdU", titleXY: [731, 393], letterXY: [509, 393],
    grid: [555, 410, 353, 301], bar: [917, 18], tickFont: 16.5, barFont: 15.5, unitFont: 15.5, unitXY: [925, 395],
    xGap: 22, yGap: 45, rings: D_rings,
    layers: [
      { pts: D_ptsSky, color: SKY },
      { pts: D_pts7, color: PURPLE },
      { core: D_mid1, pts: D_pts1, color: BLUE, op: 0.45 },
      { core: D_core1, pts: [], color: BLUE, op: 0.8 },
      { core: D_core9, pts: [], color: SKY },
      { core: D_midChain, pts: [], color: RED, op: 0.35 },
      { core: D_mid3, pts: D_pts3, color: RED, op: 0.6 },
      { core: D_core3, pts: [], color: RED },
      { core: D_core8, pts: D_pts8, color: GREEN },
      { core: D_core5, pts: D_pts5, color: GOLD },
    ], arrows: D_arrows, labels: D_labels },
];

const FRAME = "#555";
const CROSS = "path://M0 0L10 10M10 0L0 10";
const STAR = "path://M50 0L61 35H98L68 57L79 91L50 70L21 91L32 57L2 35H39Z";

function buildOption() {
  const grid: any[] = [], xAxis: any[] = [], yAxis: any[] = [], series: any[] = [], graphic: any[] = [];
  panels.forEach((p, i) => {
    const [l, t, w, h] = p.grid;
    grid.push({ left: l, top: t, width: w, height: h, show: false });
    const g = i * 2;
    const mk = { min: X_RANGE[0], max: X_RANGE[1], type: "value", gridIndex: g, splitLine: { show: false } };
    const mkY = { min: Y_RANGE[0], max: Y_RANGE[1], type: "value", gridIndex: g, splitLine: { show: false } };
    const line = { show: true, onZero: false, lineStyle: { color: FRAME, width: 1.5 } };
    const tick = (v: number[]) => ({ show: true, inside: true, length: 3, customValues: v, lineStyle: { color: "#333", width: 1 } });
    const xIdx = xAxis.length, yIdx = yAxis.length;
    xAxis.push({ ...mk, position: "bottom", axisLine: line, axisTick: tick(xTicks),
      axisLabel: { customValues: xTicks, fontSize: p.tickFont, margin: 4, color: "#222", fontFamily: FONT },
      name: "PC1 (24%)", nameLocation: "middle", nameGap: p.xGap, nameMoveOverlap: false, nameTextStyle: { fontSize: 20, color: "#222", fontFamily: FONT, verticalAlign: "top" } });
    xAxis.push({ ...mk, position: "top", axisLine: line, axisTick: tick(xTicks), axisLabel: { show: false } });
    yAxis.push({ ...mkY, position: "left", axisLine: line, axisTick: tick(yTicks),
      axisLabel: { customValues: yTicks, fontSize: p.tickFont, margin: 6, color: "#222", fontFamily: FONT },
      name: "PC2 (19%)", nameLocation: "middle", nameGap: p.yGap, nameMoveOverlap: false, nameTextStyle: { fontSize: 20, color: "#222", fontFamily: FONT, padding: p.yPad } });
    yAxis.push({ ...mkY, position: "right", axisLine: line, axisTick: tick(yTicks), axisLabel: { show: false } });

    // colour bar
    grid.push({ left: p.bar[0], top: t, width: p.bar[1], height: h, show: false });
    const bx = xAxis.length, by = yAxis.length;
    xAxis.push({ type: "value", gridIndex: g + 1, min: 0, max: 1, show: false, splitLine: { show: false } });
    yAxis.push({ type: "value", gridIndex: g + 1, min: 0, max: 4, position: "right", splitLine: { show: false },
      axisLine: { show: false }, axisTick: { show: true, inside: true, length: 3, customValues: cTicks, lineStyle: { color: "#222" } },
      axisLabel: { customValues: cTicks, fontSize: p.barFont, margin: 5, color: "#222", fontFamily: FONT } });
    series.push({ type: "custom", coordinateSystem: "cartesian2d", xAxisIndex: bx, yAxisIndex: by, z: 2, data: [[0, 0]],
      renderItem: (_: any, api: any) => {
        const a = api.coord([0, 0]), b = api.coord([1, 4]);
        return { type: "rect", shape: { x: a[0], y: b[1], width: b[0] - a[0], height: a[1] - b[1] },
          style: { fill: new echarts.graphic.LinearGradient(0, 1, 0, 0, JET_STOPS), stroke: "#666", lineWidth: 1 } };
      } });

    const polySeries = (name: string, rings: Ring[], z: number) => ({
      type: "custom", name, coordinateSystem: "cartesian2d", xAxisIndex: xIdx, yAxisIndex: yIdx, clip: true, z,
      silent: true, data: rings.map((r, k) => [r.pts[0][0], r.pts[0][1], k]),
      renderItem: (_: any, api: any) => {
        const r = rings[api.value(2)];
        return { type: "polygon", shape: { points: r.pts.map((q) => api.coord(q)), smooth: r.smooth || 0 },
          style: { fill: r.fill, stroke: r.stroke || r.fill, lineWidth: r.lw || 0.5, lineJoin: "round", opacity: r.op ?? 1 } };
      } });
    series.push(polySeries(`contours ${p.letter}`, p.rings, 3));

    p.layers.forEach((ly, k) => {
      if (ly.core) series.push(polySeries(`core ${p.letter}${k}`, [{ pts: ly.core, fill: ly.color, stroke: ly.color, lw: 2, op: ly.op }], 4 + k * 0.01));
      if (ly.pts.length)
        series.push({ type: "scatter", name: `cluster ${p.letter}${k}`, xAxisIndex: xIdx, yAxisIndex: yIdx, data: ly.pts, z: 4 + k * 0.01 + 0.005, clip: false, silent: true,
          symbol: CROSS, symbolSize: 5, itemStyle: { color: "none", borderColor: ly.color, borderWidth: 1.25, opacity: 1 } });
    });

    if (p.star) series.push({ type: "scatter", name: "star", xAxisIndex: xIdx, yAxisIndex: yIdx, data: p.star, z: 8, symbol: STAR, symbolSize: 17, itemStyle: { color: "#000", opacity: 1 } });

    if (p.arrows.length) {
      series.push({ type: "custom", name: `arrows ${p.letter}`, coordinateSystem: "cartesian2d", xAxisIndex: xIdx, yAxisIndex: yIdx, z: 9, clip: false, silent: true,
        data: p.arrows,
        renderItem: (_: any, api: any) => {
          const a = api.coord([api.value(0), api.value(1)]), b = api.coord([api.value(2), api.value(3)]);
          const d = Math.hypot(b[0] - a[0], b[1] - a[1]) || 1;
          const ux = (b[0] - a[0]) / d, uy = (b[1] - a[1]) / d;
          const H = 10, W = 3.6;
          const bx0 = b[0] - ux * H, by0 = b[1] - uy * H;
          return { type: "group", children: [
            { type: "line", shape: { x1: a[0], y1: a[1], x2: bx0, y2: by0 }, style: { stroke: "#000", lineWidth: 1.2 } },
            { type: "polygon", shape: { points: [b, [bx0 - uy * W, by0 + ux * W], [b[0] - ux * H * 0.75, b[1] - uy * H * 0.75], [bx0 + uy * W, by0 - ux * W]] }, style: { fill: "#000" } },
          ] };
        } });
      series.push({ type: "custom", name: `labels ${p.letter}`, coordinateSystem: "cartesian2d", xAxisIndex: xIdx, yAxisIndex: yIdx, z: 10, clip: false, silent: true,
        data: p.labels.map((q, k) => [q[1], q[2], k]),
        renderItem: (_: any, api: any) => {
          const c = api.coord([api.value(0), api.value(1)]);
          return { type: "text", style: { text: p.labels[api.value(2)][0], x: c[0], y: c[1], align: "center", verticalAlign: "middle", font: `21px ${FONT}`, fill: "#000" } };
        } });
    }

    const txt = (s: string, xy: P, font: string) => ({ type: "text", z: 20, style: { text: s, x: xy[0], y: xy[1], align: "center", verticalAlign: "middle", font, fill: "#000" } });
    graphic.push(txt(p.title, p.titleXY, `bold 26px ${FONT}`));
    graphic.push(txt(p.letter, p.letterXY, `bold 13px ${FONT}`));
    graphic.push(txt("kcal/mol", p.unitXY, `${p.unitFont}px ${FONT}`));
  });
  return { animation: false, backgroundColor: "#fff", grid, xAxis, yAxis, series, graphic };
}

export default function App() {
  const ref = useRef<HTMLDivElement>(null);
  useEffect(() => {
    const chart = echarts.init(ref.current!, undefined, { renderer: "svg" });
    chart.setOption(buildOption());
    return () => chart.dispose();
  }, []);
  return <div ref={ref} style={{ position: "fixed", left: 0, top: 0, width: 964, height: 757 }} />;
}
